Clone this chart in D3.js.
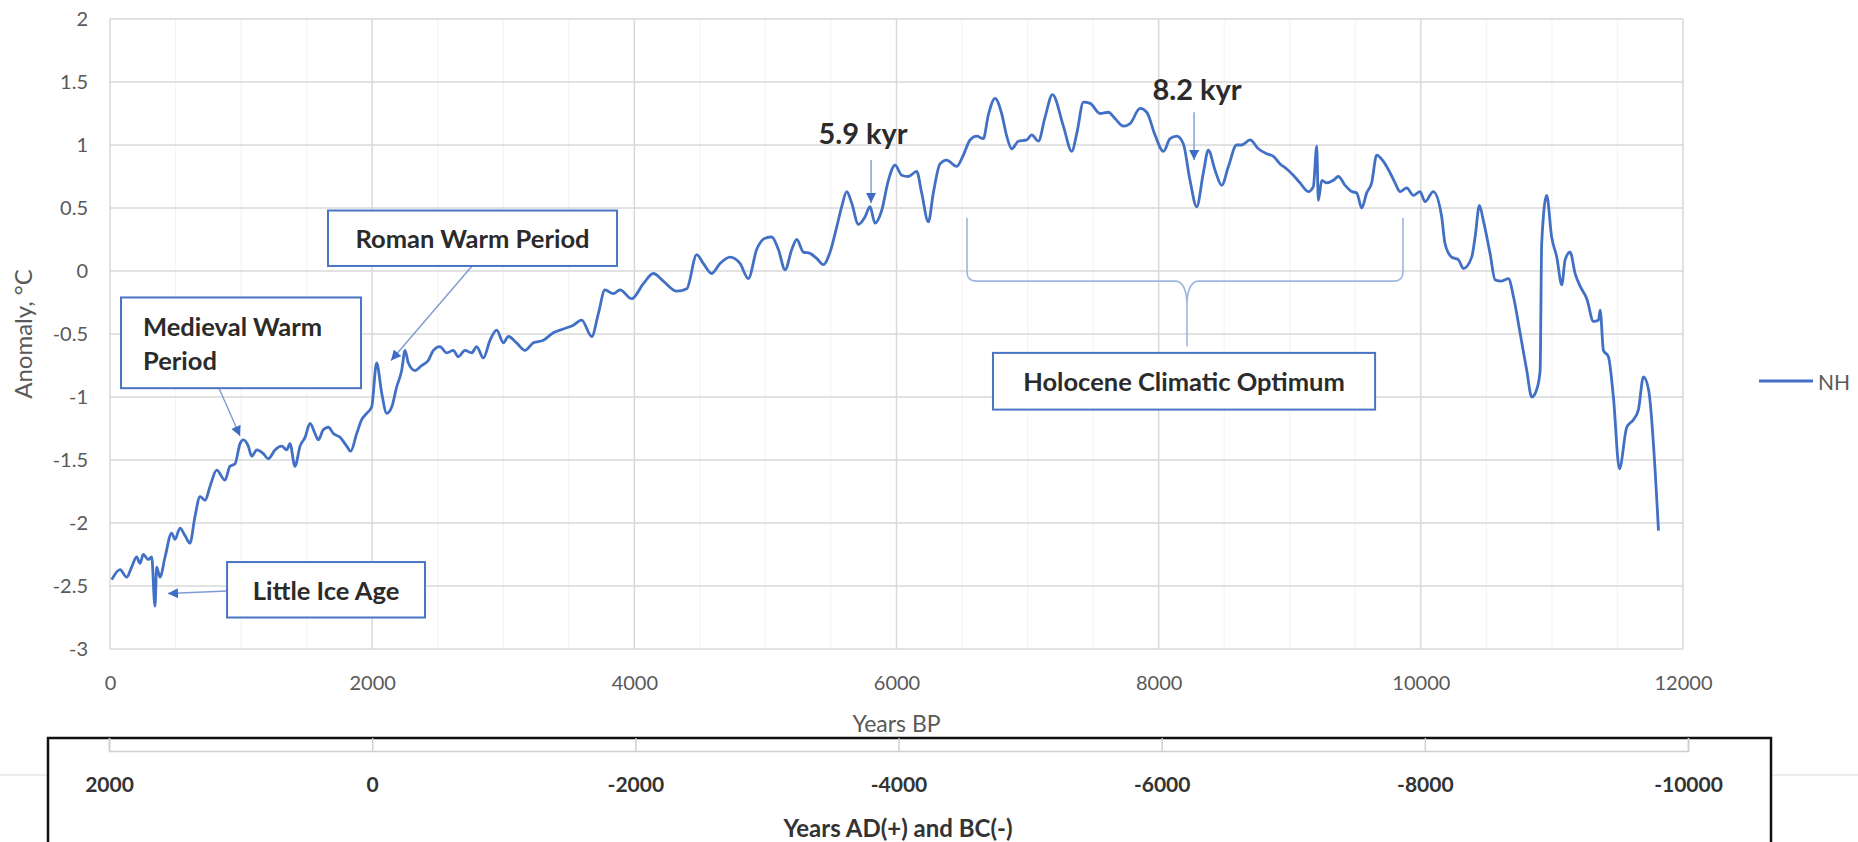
<!DOCTYPE html>
<html>
<head>
<meta charset="utf-8">
<script src="https://cdn.jsdelivr.net/npm/d3@7"></script>
<style>
  html, body { margin: 0; padding: 0; background: #ffffff; }
  svg { display: block; }
  text { font-family: Lato, "Open Sans", "DejaVu Sans", sans-serif; }
</style>
</head>
<body>
<svg id="chart" width="1858" height="842"></svg>
<script>
// Northern Hemisphere Holocene temperature anomaly reconstruction
const yearsBP = [
  13, 76, 127, 165, 203, 229, 254, 292, 318, 343, 356, 381, 420, 470, 496, 534, 572, 610, 648, 687,
  725, 763, 814, 877, 915, 954, 992, 1017, 1055, 1081, 1119, 1170, 1208, 1259, 1310, 1348, 1373, 1411, 1450, 1488,
  1526, 1564, 1589, 1627, 1666, 1704, 1755, 1806, 1836, 1882, 1920, 1958, 1996, 2034, 2073, 2111, 2149, 2187, 2225, 2251,
  2276, 2327, 2378, 2428, 2467, 2517, 2569, 2619, 2657, 2708, 2759, 2797, 2848, 2899, 2950, 3001, 3039, 3102, 3166, 3230,
  3306, 3382, 3458, 3535, 3598, 3675, 3725, 3776, 3840, 3891, 3980, 4069, 4145, 4221, 4323, 4400, 4476, 4526, 4590, 4654,
  4730, 4806, 4870, 4933, 4997, 5048, 5099, 5150, 5201, 5239, 5289, 5340, 5391, 5442, 5493, 5544, 5582, 5620, 5658, 5709,
  5760, 5798, 5836, 5887, 5938, 5989, 6040, 6090, 6154, 6192, 6243, 6281, 6332, 6383, 6459, 6510, 6561, 6612, 6662, 6701,
  6752, 6802, 6841, 6879, 6930, 6993, 7032, 7082, 7133, 7190, 7273, 7337, 7375, 7426, 7477, 7553, 7616, 7667, 7731, 7782,
  7858, 7909, 7972, 8036, 8087, 8138, 8188, 8239, 8290, 8341, 8379, 8430, 8481, 8532, 8595, 8633, 8697, 8760, 8824, 8875,
  8926, 8977, 9027, 9078, 9142, 9180, 9206, 9218, 9244, 9282, 9333, 9371, 9422, 9473, 9511, 9549, 9587, 9625, 9663, 9714,
  9765, 9803, 9842, 9892, 9943, 9994, 10032, 10095, 10159, 10184, 10235, 10286, 10325, 10388, 10414, 10447, 10477, 10528, 10567, 10617,
  10668, 10706, 10757, 10808, 10846, 10884, 10910, 10922, 10960, 10998, 11037, 11075, 11101, 11139, 11177, 11215, 11266, 11317, 11355, 11368,
  11393, 11431, 11469, 11515, 11571, 11622, 11660, 11698, 11737, 11813
];
const anomalyNH = [
  -2.45, -2.37, -2.43, -2.35, -2.27, -2.32, -2.25, -2.29, -2.27, -2.66, -2.35, -2.43, -2.27, -2.08, -2.13, -2.04, -2.10, -2.16, -1.95, -1.79,
  -1.82, -1.71, -1.58, -1.66, -1.55, -1.53, -1.37, -1.34, -1.39, -1.47, -1.42, -1.45, -1.49, -1.42, -1.39, -1.42, -1.37, -1.55, -1.39, -1.32,
  -1.21, -1.29, -1.34, -1.26, -1.24, -1.29, -1.32, -1.39, -1.43, -1.29, -1.18, -1.13, -1.08, -0.73, -0.97, -1.13, -1.08, -0.92, -0.79, -0.63,
  -0.73, -0.79, -0.75, -0.71, -0.63, -0.60, -0.65, -0.63, -0.68, -0.63, -0.65, -0.60, -0.69, -0.55, -0.47, -0.57, -0.52, -0.57, -0.63, -0.57,
  -0.55, -0.49, -0.46, -0.43, -0.39, -0.52, -0.34, -0.15, -0.18, -0.15, -0.22, -0.10, -0.02, -0.08, -0.16, -0.14, 0.13, 0.06, -0.02, 0.06,
  0.11, 0.06, -0.06, 0.17, 0.26, 0.27, 0.17, 0.01, 0.17, 0.25, 0.15, 0.14, 0.10, 0.05, 0.15, 0.35, 0.51, 0.63, 0.54, 0.37,
  0.43, 0.51, 0.38, 0.48, 0.72, 0.84, 0.76, 0.75, 0.79, 0.62, 0.39, 0.62, 0.85, 0.88, 0.83, 0.92, 1.04, 1.07, 1.05, 1.24,
  1.37, 1.25, 1.07, 0.97, 1.03, 1.04, 1.08, 1.03, 1.22, 1.40, 1.15, 0.95, 1.09, 1.34, 1.33, 1.25, 1.26, 1.21, 1.15, 1.17,
  1.29, 1.26, 1.08, 0.95, 1.05, 1.07, 1.01, 0.72, 0.51, 0.78, 0.96, 0.80, 0.68, 0.83, 1.00, 1.00, 1.04, 0.97, 0.93, 0.91,
  0.85, 0.81, 0.76, 0.70, 0.63, 0.67, 0.99, 0.56, 0.72, 0.70, 0.72, 0.75, 0.68, 0.63, 0.62, 0.50, 0.62, 0.70, 0.92, 0.87,
  0.78, 0.70, 0.63, 0.66, 0.60, 0.63, 0.55, 0.63, 0.43, 0.22, 0.11, 0.09, 0.02, 0.11, 0.27, 0.52, 0.40, 0.14, -0.07, -0.08,
  -0.06, -0.20, -0.49, -0.79, -1.00, -0.94, -0.79, 0.22, 0.60, 0.27, 0.11, -0.11, 0.09, 0.15, -0.02, -0.12, -0.22, -0.40, -0.39, -0.31,
  -0.63, -0.68, -1.00, -1.57, -1.24, -1.18, -1.10, -0.84, -0.94, -2.06
];
const seriesName = "NH";
const yTicks = [2, 1.5, 1, 0.5, 0, -0.5, -1, -1.5, -2, -2.5, -3];
const xTicks = [0, 2000, 4000, 6000, 8000, 10000, 12000];
const xMinorTicks = d3.range(0, 12001, 500);
const calendarTicks = [2000, 0, -2000, -4000, -6000, -8000, -10000];

// Callout labels placed in data coordinates (years BP, anomaly)
const boxedLabels = [
  { lines: ["Roman Warm Period"], x0: 1663, x1: 3868, y0: 0.48, y1: 0.04, align: "middle" },
  { lines: ["Medieval Warm", "Period"], x0: 84, x1: 1915, y0: -0.21, y1: -0.93, align: "start" },
  { lines: ["Little Ice Age"], x0: 893, x1: 2403, y0: -2.31, y1: -2.75, align: "middle" },
  { lines: ["Holocene Climatic Optimum"], x0: 6736, x1: 9651, y0: -0.65, y1: -1.10, align: "middle" }
];
const pointers = [
  { from: [2762, 0.04], to: [2144, -0.71] },
  { from: [832, -0.93], to: [992, -1.31] },
  { from: [893, -2.54], to: [442, -2.56] },
  { from: [5806, 0.88], to: [5806, 0.54] },
  { from: [8270, 1.26], to: [8270, 0.88] }
];
const eventLabels = [
  { text: "5.9 kyr", x: 5745, y: 1.10 },
  { text: "8.2 kyr", x: 8293, y: 1.45 }
];
const brace = { x0: 6538, x1: 9864, xMid: 8216, yTop: 0.42, yBar: -0.08, yTip: -0.60 };

const svg = d3.select("#chart");
const x = d3.scaleLinear().domain([0, 12000]).range([110, 1683]);
const y = d3.scaleLinear().domain([-3, 2]).range([649, 19]);
const xCal = d3.scaleLinear().domain([2000, -10000]).range([109, 1688]);
const plain = d => String(d);

const gridColor = "#d9d9d9";
const labelColor = "#595959";
const lineColor = "#4170c4";

// minor vertical gridlines
svg.append("g").selectAll("line").data(xMinorTicks.filter(d => d % 2000 !== 0)).join("line")
  .attr("x1", d => x(d)).attr("x2", d => x(d))
  .attr("y1", y(2)).attr("y2", y(-3))
  .attr("stroke", "#f4f4f4").attr("stroke-width", 1.2);

// major gridlines
svg.append("g").selectAll("line").data(yTicks).join("line")
  .attr("x1", x(0)).attr("x2", x(12000))
  .attr("y1", d => y(d)).attr("y2", d => y(d))
  .attr("stroke", gridColor).attr("stroke-width", 1.5);
svg.append("g").selectAll("line").data(xTicks).join("line")
  .attr("x1", d => x(d)).attr("x2", d => x(d))
  .attr("y1", y(2)).attr("y2", y(-3))
  .attr("stroke", gridColor).attr("stroke-width", 1.5);

// axes (labels only)
const yAxis = svg.append("g").attr("transform", `translate(${x(0)},0)`)
  .call(d3.axisLeft(y).tickValues(yTicks).tickSize(0).tickPadding(22).tickFormat(plain));
yAxis.select(".domain").remove();
yAxis.selectAll("text").attr("fill", labelColor).attr("font-size", 20);

const xAxis = svg.append("g").attr("transform", `translate(0,${y(-3)})`)
  .call(d3.axisBottom(x).tickValues(xTicks).tickSize(0).tickFormat(plain));
xAxis.select(".domain").remove();
xAxis.selectAll("text").attr("fill", labelColor).attr("font-size", 20).attr("y", 34).attr("dy", "0.35em");

svg.append("text").attr("x", (x(0) + x(12000)) / 2).attr("y", 723)
  .attr("text-anchor", "middle").attr("dominant-baseline", "central")
  .attr("fill", labelColor).attr("font-size", 23).text("Years BP");

svg.append("text")
  .attr("transform", `translate(22,${(y(2) + y(-3)) / 2}) rotate(-90)`)
  .attr("text-anchor", "middle").attr("dominant-baseline", "central")
  .attr("fill", labelColor).attr("font-size", 24).text("Anomaly, °C");

// brace over the Holocene Climatic Optimum
const bx0 = x(brace.x0), bx1 = x(brace.x1), bxm = x(brace.xMid);
const byT = y(brace.yTop), byB = y(brace.yBar), byTip = y(brace.yTip);
const r = 9;
const bracePath = d3.path();
bracePath.moveTo(bx0, byT);
bracePath.lineTo(bx0, byB - r);
bracePath.quadraticCurveTo(bx0, byB, bx0 + r, byB);
bracePath.lineTo(bxm - 12, byB);
bracePath.quadraticCurveTo(bxm - 1, byB, bxm, byB + 22);
bracePath.lineTo(bxm, byTip);
bracePath.moveTo(bxm, byB + 22);
bracePath.quadraticCurveTo(bxm + 1, byB, bxm + 12, byB);
bracePath.lineTo(bx1 - r, byB);
bracePath.quadraticCurveTo(bx1, byB, bx1, byB - r);
bracePath.lineTo(bx1, byT);
svg.append("path").attr("d", bracePath.toString())
  .attr("fill", "none").attr("stroke", "#9fb6df").attr("stroke-width", 1.6);

// data line
const line = d3.line()
  .x((d, i) => x(yearsBP[i]))
  .y(d => y(d))
  .curve(d3.curveMonotoneX);
svg.append("path").datum(anomalyNH)
  .attr("d", line)
  .attr("fill", "none").attr("stroke", lineColor).attr("stroke-width", 2.8)
  .attr("stroke-linejoin", "round");

// callout pointers
const defs = svg.append("defs");
defs.append("marker").attr("id", "tri")
  .attr("viewBox", "0 0 10 10").attr("refX", 10).attr("refY", 5)
  .attr("markerWidth", 11).attr("markerHeight", 10).attr("markerUnits", "userSpaceOnUse")
  .attr("orient", "auto")
  .append("path").attr("d", "M0,0 L10,5 L0,10 Z").attr("fill", "#3e6cc4");
svg.append("g").selectAll("line").data(pointers).join("line")
  .attr("x1", d => x(d.from[0])).attr("y1", d => y(d.from[1]))
  .attr("x2", d => x(d.to[0])).attr("y2", d => y(d.to[1]))
  .attr("stroke", "#7d9cd4").attr("stroke-width", 1.4)
  .attr("marker-end", "url(#tri)");

// boxed callouts
const boxes = svg.append("g").selectAll("g").data(boxedLabels).join("g");
boxes.append("rect")
  .attr("x", d => x(d.x0)).attr("y", d => y(d.y0))
  .attr("width", d => x(d.x1) - x(d.x0)).attr("height", d => y(d.y1) - y(d.y0))
  .attr("fill", "#ffffff").attr("stroke", "#4a74c4").attr("stroke-width", 2);
boxes.each(function (d) {
  const g = d3.select(this);
  const left = x(d.x0), right = x(d.x1), top = y(d.y0), bottom = y(d.y1);
  const n = d.lines.length;
  const lh = 34;
  const cy = (top + bottom) / 2;
  d.lines.forEach((t, i) => {
    g.append("text")
      .attr("x", d.align === "middle" ? (left + right) / 2 : left + 22)
      .attr("y", cy + (i - (n - 1) / 2) * lh)
      .attr("text-anchor", d.align)
      .attr("dominant-baseline", "central")
      .attr("fill", "#2b2b2b").attr("font-size", 25.5).attr("font-weight", 700)
      .text(t);
  });
});

// event labels
svg.append("g").selectAll("text").data(eventLabels).join("text")
  .attr("x", d => x(d.x)).attr("y", d => y(d.y))
  .attr("text-anchor", "middle").attr("dominant-baseline", "central")
  .attr("fill", "#2b2b2b").attr("font-size", 29).attr("font-weight", 700)
  .text(d => d.text);

// legend
const lg = svg.append("g");
lg.append("line").attr("x1", 1759).attr("x2", 1813).attr("y1", 381).attr("y2", 381)
  .attr("stroke", lineColor).attr("stroke-width", 3);
lg.append("text").attr("x", 1818).attr("y", 381).attr("dominant-baseline", "central")
  .attr("fill", labelColor).attr("font-size", 21).text(seriesName);

// calendar-year axis panel
svg.append("line").attr("x1", 0).attr("x2", 1858).attr("y1", 775).attr("y2", 775)
  .attr("stroke", "#dcdcdc").attr("stroke-width", 1.2);
svg.append("rect").attr("x", 48).attr("y", 738).attr("width", 1771 - 48).attr("height", 842 - 738 + 10)
  .attr("fill", "#ffffff").attr("stroke", "#111111").attr("stroke-width", 2.5);

const calAxis = svg.append("g").attr("transform", "translate(0,751)")
  .call(d3.axisBottom(xCal).tickValues(calendarTicks).tickSize(-13).tickFormat(plain));
calAxis.select(".domain").attr("stroke", "#cfcfcf").attr("stroke-width", 1.5);
calAxis.selectAll(".tick line").attr("stroke", "#cfcfcf").attr("stroke-width", 1.5);
calAxis.selectAll("text").attr("fill", "#333333").attr("font-size", 21).attr("font-weight", 700)
  .attr("y", 34).attr("dy", "0.35em");

svg.append("text").attr("x", 898).attr("y", 827)
  .attr("text-anchor", "middle").attr("dominant-baseline", "central")
  .attr("fill", "#333333").attr("font-size", 24).attr("font-weight", 700)
  .text("Years AD(+) and BC(-)");
</script>
</body>
</html>
